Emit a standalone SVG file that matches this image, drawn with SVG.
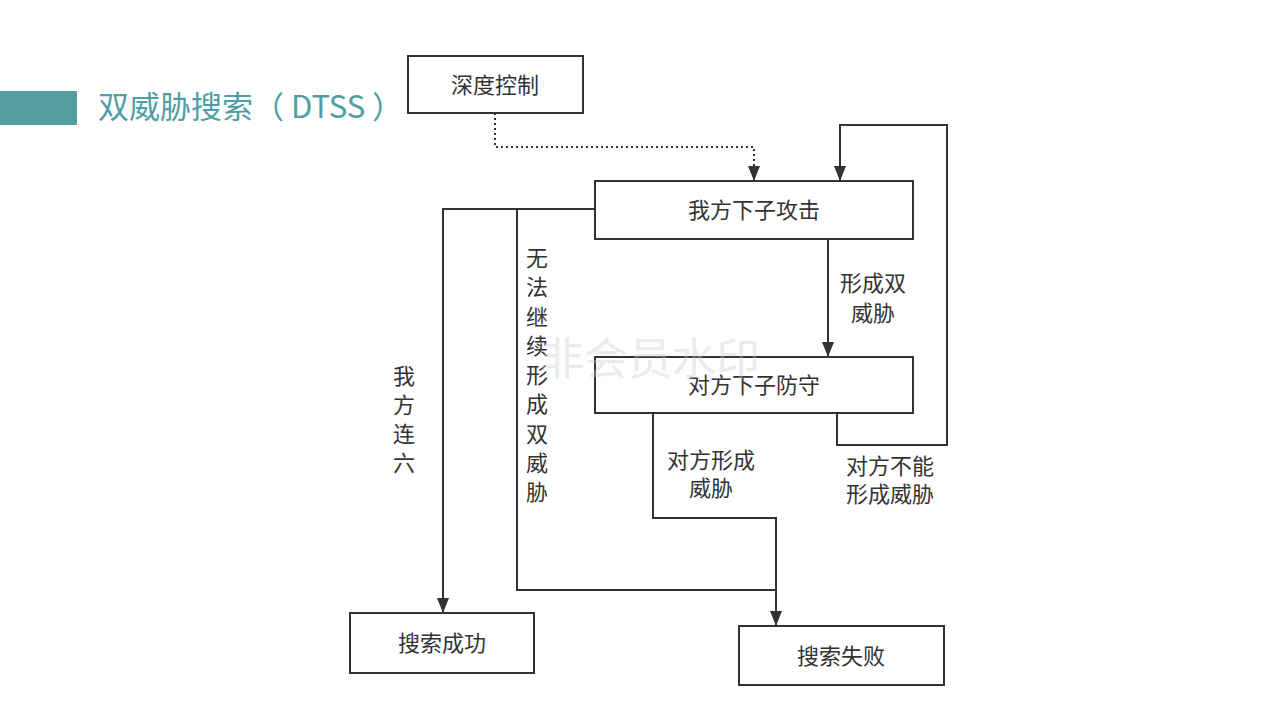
<svg xmlns="http://www.w3.org/2000/svg" width="1280" height="720" viewBox="0 0 1280 720">
  <style>
    .box { fill: #ffffff; stroke: #333333; stroke-width: 2; }
    .lbl { font-family: "Noto Sans CJK SC", "Noto Sans", sans-serif; font-size: 22px; fill: #333333; }
    .mid { text-anchor: middle; dominant-baseline: central; }
    .edge { fill: none; stroke: #333333; stroke-width: 2; }
    .dot { fill: none; stroke: #333333; stroke-width: 2; stroke-dasharray: 2 3; }
  </style>
  <defs>
    <marker id="arrowL" viewBox="0 0 15 12" refX="15" refY="6" markerWidth="15" markerHeight="12" markerUnits="userSpaceOnUse" orient="auto">
      <path d="M0,0 L15,6 L0,12 z" fill="#333333"/>
    </marker>
  </defs>
  <rect width="1280" height="720" fill="#ffffff"/>

  <!-- heading -->
  <g id="title">
    <rect x="0" y="91" width="77" height="34" fill="#559da0"/>
    <text x="98" y="118" font-family="Noto Sans CJK SC, Noto Sans, sans-serif" font-size="31" fill="#4f9ea3">双威胁搜索（ DTSS ）</text>
  </g>

  <!-- connectors -->
  <g id="connectors">
    <polyline class="dot" points="495,113 495,147 754,147 754,181" marker-end="url(#arrowL)"/>
    <polyline class="edge" points="837,413 837,445 947,445 947,125 840,125 840,181" marker-end="url(#arrowL)"/>
    <polyline class="edge" points="828,239 828,357" marker-end="url(#arrowL)"/>
    <polyline class="edge" points="595,209 443,209 443,613" marker-end="url(#arrowL)"/>
    <polyline class="edge" points="517,209 517,590 776,590 776,626" marker-end="url(#arrowL)"/>
    <polyline class="edge" points="653,413 653,518 776,518 776,590"/>
  </g>

  <!-- edge labels -->
  <g id="edge-labels" class="lbl">
    <text class="mid" x="873" y="281">形成双</text>
    <text class="mid" x="873" y="311">威胁</text>
    <text class="mid" x="711" y="458">对方形成</text>
    <text class="mid" x="711" y="486">威胁</text>
    <text class="mid" x="890" y="464">对方不能</text>
    <text class="mid" x="890" y="492">形成威胁</text>
    <text class="mid" x="404" y="374">我</text>
    <text class="mid" x="404" y="403">方</text>
    <text class="mid" x="404" y="432">连</text>
    <text class="mid" x="404" y="461">六</text>
    <text class="mid" x="537" y="256">无</text>
    <text class="mid" x="537" y="285">法</text>
    <text class="mid" x="537" y="315">继</text>
    <text class="mid" x="537" y="344">续</text>
    <text class="mid" x="537" y="373">形</text>
    <text class="mid" x="537" y="402">成</text>
    <text class="mid" x="537" y="432">双</text>
    <text class="mid" x="537" y="461">威</text>
    <text class="mid" x="537" y="490">胁</text>
  </g>

  <!-- nodes -->
  <g id="depth-control">
    <rect class="box" x="408" y="56" width="175" height="57"/>
    <text class="lbl mid" x="495" y="83">深度控制</text>
  </g>
  <g id="attack">
    <rect class="box" x="595" y="181" width="318" height="58"/>
    <text class="lbl mid" x="754" y="208">我方下子攻击</text>
  </g>
  <g id="defend">
    <rect class="box" x="595" y="357" width="318" height="56"/>
    <text class="lbl mid" x="754" y="383">对方下子防守</text>
  </g>
  <g id="success">
    <rect class="box" x="350" y="613" width="184" height="60"/>
    <text class="lbl mid" x="442" y="641">搜索成功</text>
  </g>
  <g id="failure">
    <rect class="box" x="739" y="626" width="205" height="59"/>
    <text class="lbl mid" x="841" y="654">搜索失败</text>
  </g>

  <!-- faint overlay stamp -->
  <text x="650" y="356" text-anchor="middle" dominant-baseline="central" font-family="Noto Sans CJK SC, Noto Sans, sans-serif" font-size="44" fill="#cccccc" fill-opacity="0.4">非会员水印</text>
</svg>
